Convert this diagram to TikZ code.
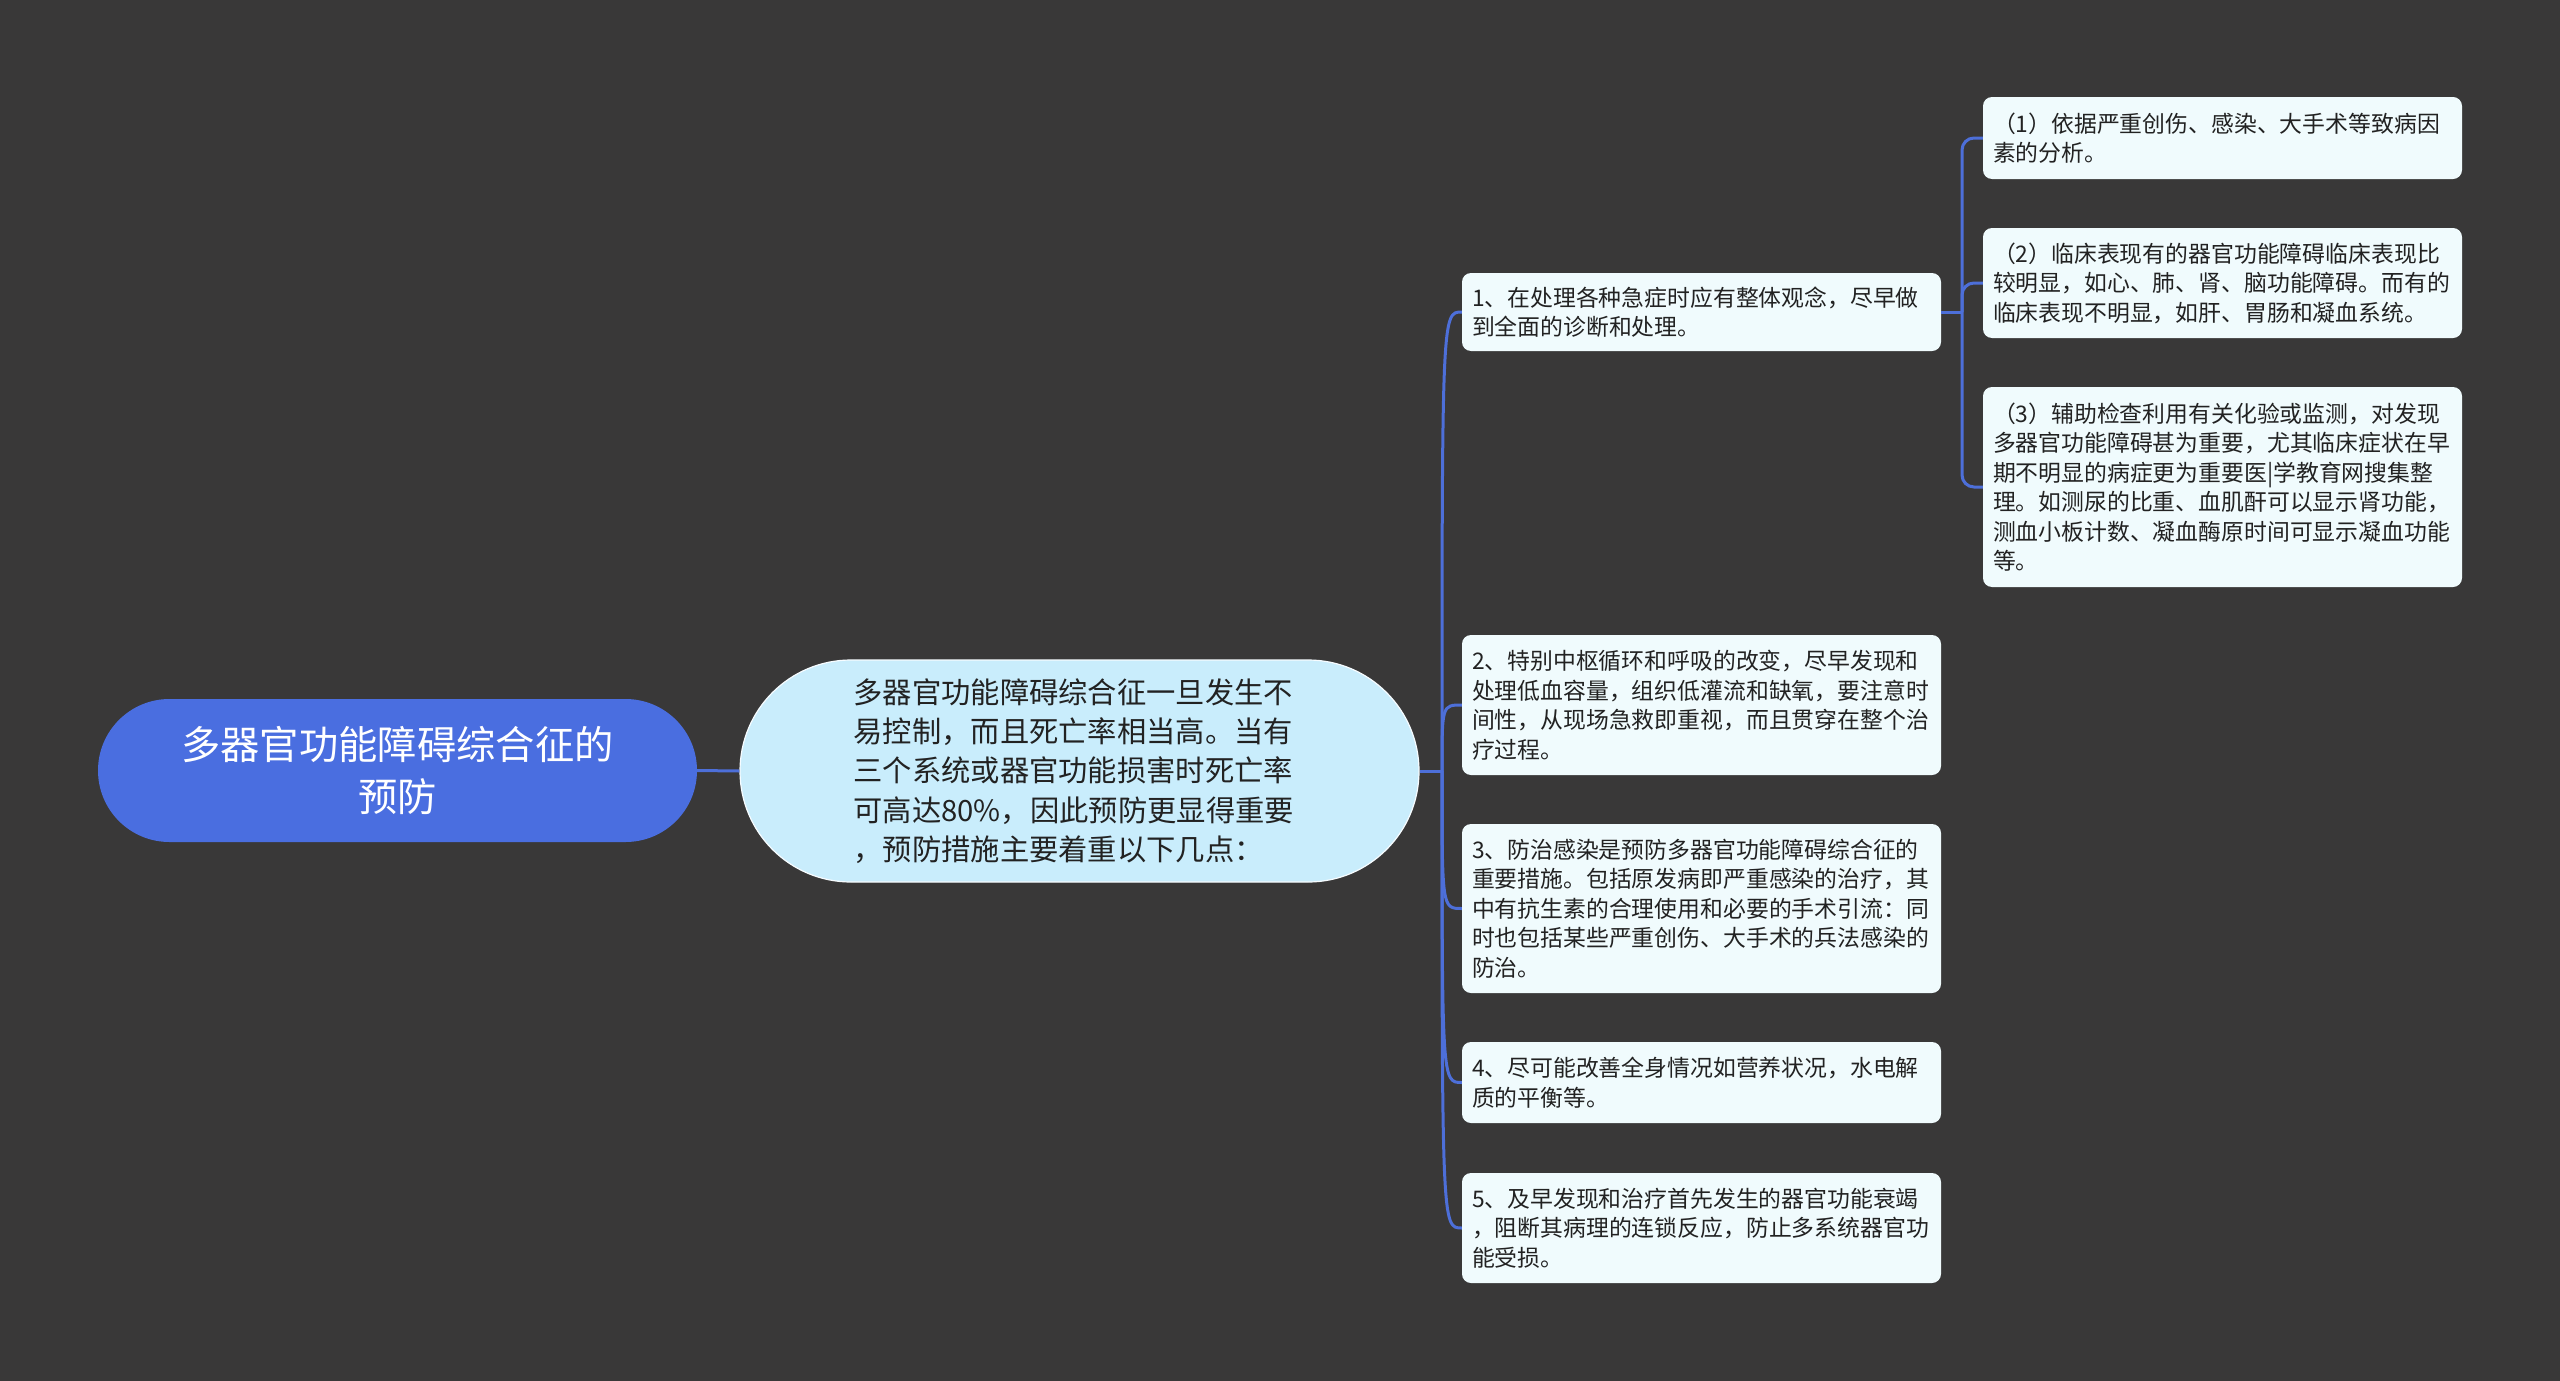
\documentclass[tikz,border=0pt]{standalone}
\usepackage{fontspec}
\setmainfont{Noto Sans CJK SC}
\definecolor{bgc}{HTML}{393838}
\definecolor{rootblue}{HTML}{4A6EE0}
\definecolor{linkblue}{HTML}{4D6FD9}
\definecolor{midfill}{HTML}{C9EDFC}
\definecolor{leaffill}{HTML}{F0FBFD}
\definecolor{txt}{HTML}{222222}
\begin{document}
\begin{tikzpicture}[x=1pt,y=-1pt]
\tikzset{
  conn/.style={draw=linkblue, line width=3pt},
  rootbox/.style={fill=rootblue, rounded corners=71.5pt, minimum width=599pt, minimum height=143pt,
    text=white, align=center, inner sep=0pt, font=\fontsize{39.3pt}{52pt}\selectfont},
  midbox/.style={fill=midfill, draw=white!85!midfill, line width=1.2pt, rounded corners=111pt,
    minimum width=679pt, minimum height=222pt, text=txt, text width=452pt, align=left,
    inner xsep=113.5pt, inner ysep=0pt, font=\fontsize{29.3pt}{39.2pt}\selectfont},
  leaf/.style={fill=leaffill, rounded corners=9pt, text=txt, text width=459pt, align=left,
    inner xsep=10pt, inner ysep=0pt, minimum width=479pt, font=\fontsize{22.85pt}{29.5pt}\selectfont},
}
\fill[bgc] (0,0) rectangle (2560,1381);
\useasboundingbox (0,0) rectangle (2560,1381);

\node[rootbox] (root) at (397.5,770.5) {多器官功能障碍综合征的\\预防};
\node[midbox] (mid) at (1079.5,771) {多器官功能障碍综合征一旦发生不\\易控制，而且死亡率相当高。当有\\三个系统或器官功能损害时死亡率\\可高达80\%，因此预防更显得重要\\，预防措施主要着重以下几点：};

\node[leaf, minimum height=78pt] (n1) at (1701.5,312) {1、在处理各种急症时应有整体观念，尽早做\\到全面的诊断和处理。};
\node[leaf, minimum height=140pt] (n2) at (1701.5,705) {2、特别中枢循环和呼吸的改变，尽早发现和\\处理低血容量，组织低灌流和缺氧，要注意时\\间性，从现场急救即重视，而且贯穿在整个治\\疗过程。};
\node[leaf, minimum height=169pt] (n3) at (1701.5,908.5) {3、防治感染是预防多器官功能障碍综合征的\\重要措施。包括原发病即严重感染的治疗，其\\中有抗生素的合理使用和必要的手术引流：同\\时也包括某些严重创伤、大手术的兵法感染的\\防治。};
\node[leaf, minimum height=81pt] (n4) at (1701.5,1082.5) {4、尽可能改善全身情况如营养状况，水电解\\质的平衡等。};
\node[leaf, minimum height=110pt] (n5) at (1701.5,1228) {5、及早发现和治疗首先发生的器官功能衰竭\\，阻断其病理的连锁反应，防止多系统器官功\\能受损。};

\node[leaf, minimum height=82pt] (s1) at (2222.5,138) {（1）依据严重创伤、感染、大手术等致病因\\素的分析。};
\node[leaf, minimum height=110pt] (s2) at (2222.5,283) {（2）临床表现有的器官功能障碍临床表现比\\较明显，如心、肺、肾、脑功能障碍。而有的\\临床表现不明显，如肝、胃肠和凝血系统。};
\node[leaf, minimum height=200pt] (s3) at (2222.5,487) {（3）辅助检查利用有关化验或监测，对发现\\多器官功能障碍甚为重要，尤其临床症状在早\\期不明显的病症更为重要医|学教育网搜集整\\理。如测尿的比重、血肌酐可以显示肾功能，\\测血小板计数、凝血酶原时间可显示凝血功能\\等。};

% root to mid
\draw[conn] (root.east) -- (mid.west);

% mid to level 2
\coordinate (J) at (1442,771);
\draw[conn] (mid.east) -- (J);
\foreach \n in {n1,n2,n3,n4,n5}{
  \draw[conn] (J) .. controls (J |- \n.west) and (J |- \n.west) .. (\n.west);
}

% n1 to level 3
\coordinate (K) at (1962,312);
\draw[conn] (n1.east) -- (K);
\foreach \s in {s1,s2,s3}{
  \draw[conn, rounded corners=12pt] (K) |- (\s.west);
}
\end{tikzpicture}
\end{document}
